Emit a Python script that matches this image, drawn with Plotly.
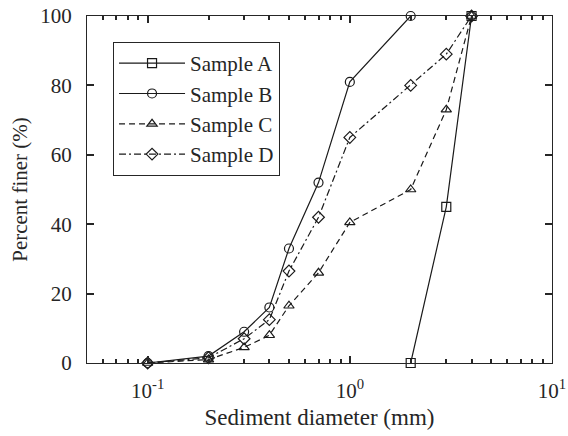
import plotly.graph_objects as go

sizes_A = [2, 3, 4]
finer_A = [0, 45, 100]
sizes_B = [0.1, 0.2, 0.3, 0.4, 0.5, 0.7, 1, 2]
finer_B = [0, 2, 9, 16, 33, 52, 81, 100]
sizes_C = [0.1, 0.2, 0.3, 0.4, 0.5, 0.7, 1, 2, 3, 4]
finer_C = [0, 1, 4.5, 8, 16.5, 26, 40.5, 50, 73, 100]
sizes_D = [0.1, 0.2, 0.3, 0.4, 0.5, 0.7, 1, 2, 3, 4]
finer_D = [0, 1.5, 7, 12.5, 26.5, 42, 65, 80, 89, 100]

x_tickvals = [0.1, 1, 10]
x_ticktext = ["10<sup>-1</sup>", "10<sup>0</sup>", "10<sup>1</sup>"]
x_minorvals = [0.06, 0.07, 0.08, 0.09, 0.2, 0.3, 0.4, 0.5, 0.6, 0.7, 0.8, 0.9,
               2, 3, 4, 5, 6, 7, 8, 9]
y_tickvals = [0, 20, 40, 60, 80, 100]

series = [
    ("Sample A", sizes_A, finer_A, "square-open", "solid"),
    ("Sample B", sizes_B, finer_B, "circle-open", "solid"),
    ("Sample C", sizes_C, finer_C, "triangle-up-open", "6px,4px"),
    ("Sample D", sizes_D, finer_D, "diamond-open", "7px,3px,2px,3px"),
]

fig = go.Figure()
for name, xs, ys, sym, dash in series:
    fig.add_trace(go.Scatter(
        x=xs, y=ys, name=name, mode="lines+markers",
        line=dict(color="#1a1a1a", width=1.2, dash=dash),
        marker=dict(symbol=sym, size=9, color="#1a1a1a", line=dict(width=1.2, color="#1a1a1a")),
        cliponaxis=False,
    ))

font = "Times New Roman, Liberation Serif, serif"
fig.update_layout(
    width=568, height=436,
    margin=dict(l=87, r=16, t=16, b=73, autoexpand=False),
    paper_bgcolor="white", plot_bgcolor="white",
    font=dict(family=font, size=21, color="#262626"),
    legend=dict(x=0.056, y=0.925, xanchor="left", yanchor="top",
                bordercolor="#262626", borderwidth=1, bgcolor="white",
                font=dict(size=21), tracegroupgap=0, itemwidth=66),
    showlegend=True,
)
fig.update_xaxes(
    type="log", range=[-1.3, 1], tickvals=x_tickvals, ticktext=x_ticktext,
    ticks="inside", ticklen=7, tickwidth=1.5, tickcolor="#262626",
    showline=True, linecolor="#262626", linewidth=1.2, mirror="allticks",
    showgrid=False, zeroline=False, automargin=False, ticklabelstandoff=9,
    minor=dict(ticks="inside", ticklen=4, tickwidth=1.5, tickcolor="#262626", showgrid=False,
               tickvals=x_minorvals),
    title=dict(text="Sediment diameter (mm)", standoff=6, font=dict(size=23)),
)
fig.update_yaxes(
    range=[0, 100], tickvals=y_tickvals,
    ticks="inside", ticklen=7, tickwidth=1.5, tickcolor="#262626",
    showline=True, linecolor="#262626", linewidth=1.2, mirror="allticks",
    showgrid=False, zeroline=False, automargin=False, ticklabelstandoff=10,
    title=dict(text="Percent finer (%)", standoff=6, font=dict(size=21)),
)
fig.write_html("out.html", config={"displayModeBar": False},
               post_script="document.body.style.margin='0';")
